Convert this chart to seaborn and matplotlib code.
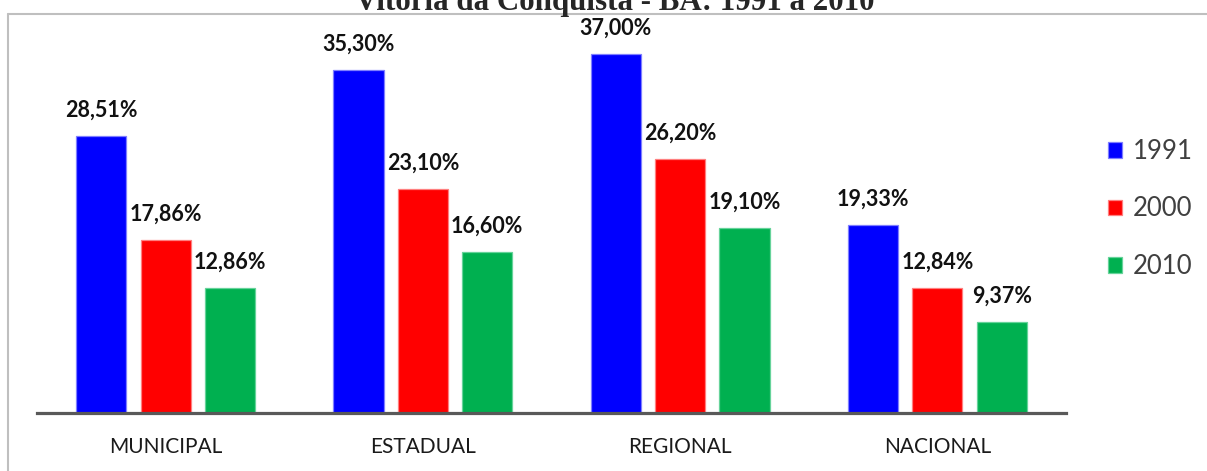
import pandas as pd
import numpy as np
import matplotlib.pyplot as plt
from matplotlib.patches import Patch
from matplotlib.lines import Line2D
import seaborn as sns

# values
categorias = ['MUNICIPAL', 'ESTADUAL', 'REGIONAL', 'NACIONAL']
anos = ['1991', '2000', '2010']
v1991 = [28.51, 35.30, 37.00, 19.33]
v2000 = [17.86, 23.10, 26.20, 12.84]
v2010 = [12.86, 16.60, 19.10, 9.37]
titulo = 'Vitória da Conquista - BA: 1991 a 2010'

cores = {'1991': '#0000FF', '2000': '#FF0000', '2010': '#00B050'}
bordas = {'1991': '#7F7FFF', '2000': '#FF7F7F', '2010': '#66D39A'}

df = pd.DataFrame({
    'regiao': categorias * 3,
    'ano': [a for a in anos for _ in categorias],
    'valor': v1991 + v2000 + v2010,
})

sns.set_style('white')
plt.rcParams['font.family'] = ['Lato', 'DejaVu Sans']

fig = plt.figure(figsize=(12.07, 4.71), dpi=100)
ax = fig.add_axes([37 / 1207, 58 / 471, 1029 / 1207, 0.85])

sns.barplot(data=df, x='regiao', y='valor', hue='ano', palette=cores,
            hue_order=anos, order=categorias, width=0.75, gap=0.22,
            ax=ax, legend=False, saturation=1)

# bar outlines and value labels
for cont, ano in zip(ax.containers, anos):
    for bar in cont:
        bar.set_edgecolor(bordas[ano])
        bar.set_linewidth(0.9)
    rotulos = [f"{v:.2f}%".replace('.', ',') for v in cont.datavalues]
    ax.bar_label(cont, labels=rotulos, padding=11, fontsize=15.5,
                 fontweight='bold', color='#111111')

ax.set_ylim(0, 400 / 9.7)
ax.set_xlim(-0.5, 3.5)
ax.set_xlabel('')
ax.set_ylabel('')
ax.set_yticks([])
ax.tick_params(axis='x', length=0, pad=17, labelsize=15, labelcolor='#1a1a1a')
for s in ['top', 'left', 'right']:
    ax.spines[s].set_visible(False)
ax.spines['bottom'].set_color('#595959')
ax.spines['bottom'].set_linewidth(2.3)

# legend on the right
handles = [Patch(facecolor=cores[a], edgecolor=bordas[a], linewidth=0.9) for a in anos]
fig.legend(handles, anos, loc='center left', bbox_to_anchor=(1108 / 1207, 1 - 209 / 471),
           frameon=False, fontsize=18.5, labelcolor='#404040',
           handlelength=0.55, handleheight=0.55, handletextpad=0.4,
           labelspacing=1.27, borderpad=0, borderaxespad=0)

# chart-area frame (only top and left edges show in the crop)
fig.add_artist(Line2D([7.5 / 1207, 7.5 / 1207], [0, 1 - 13.5 / 471],
                      transform=fig.transFigure, color='#bfbfbf', lw=1.5))
fig.add_artist(Line2D([7.5 / 1207, 1], [1 - 13.5 / 471, 1 - 13.5 / 471],
                      transform=fig.transFigure, color='#bfbfbf', lw=1.5))

# title, cut off by the top edge as in the reference
fig.text(615 / 1207, 1 - 10 / 471, titulo, ha='center', va='baseline',
         fontsize=22.3, fontweight='bold', family=['Liberation Serif', 'DejaVu Serif'])

fig.savefig('out.png', dpi=100)
